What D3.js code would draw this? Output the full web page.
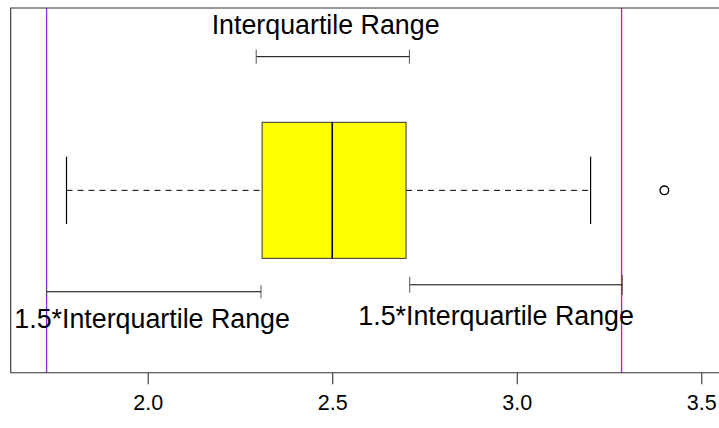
<!DOCTYPE html>
<html>
<head>
<meta charset="utf-8">
<script src="https://cdn.jsdelivr.net/npm/d3@7/dist/d3.min.js"></script>
<style>
html,body{margin:0;padding:0;background:#fff;}
svg{display:block;}
text{font-family:"Liberation Sans", Arial, Helvetica, sans-serif;fill:#000;}
</style>
</head>
<body>
<div id="chart"></div>
<script>
// ---- data ----
const boxStats = [1.78, 2.31, 2.5, 2.70, 3.2];   // lower whisker, Q1, median, Q3, upper whisker
const outliers = [3.4];
const fences = [1.726, 3.284];                    // Q1 - 1.5*IQR, Q3 + 1.5*IQR
const tickValues = [2.0, 2.5, 3.0, 3.5];
const tickLabels = ["2.0", "2.5", "3.0", "3.5"];
const bracketFrom = [2.294, 1.726, 2.710];
const bracketTo   = [2.709, 2.307, 3.286];
const bracketLevel = [1.3665, 0.722, 0.741];
const labelText = ["Interquartile Range", "1.5*Interquartile Range", "1.5*Interquartile Range"];
const labelX = [2.482, 2.012, 2.944];
const labelLevel = [1.4287, 0.6226, 0.631];

// ---- layout ----
const W = 719, H = 428;
const frameLeft = 10.7, frameTop = 8, frameBottom = 372.7, frameRight = 740;
const svg = d3.select("#chart").append("svg").attr("width", W).attr("height", H);

const x = d3.scaleLinear().domain([2.0, 3.5]).range([147.7, 701.3]);
const y = d3.scaleLinear().domain([0.5, 1.5]).range([frameBottom, frameTop]);
const boxHalf = 0.1865, stapleHalf = 0.0923, center = 1;

// fences (purple)
svg.selectAll("line.fence").data(fences).enter().append("line")
  .attr("x1", d => x(d)).attr("x2", d => x(d))
  .attr("y1", frameTop).attr("y2", frameBottom)
  .attr("stroke", "#a020f0").attr("stroke-width", 1.3);

// whiskers
const [wlo, q1, med, q3, whi] = boxStats;
svg.append("line").attr("x1", x(wlo)).attr("x2", x(q1)).attr("y1", y(center)).attr("y2", y(center))
  .attr("stroke", "#000").attr("stroke-dasharray", "6,5");
svg.append("line").attr("x1", x(q3)).attr("x2", x(whi)).attr("y1", y(center)).attr("y2", y(center))
  .attr("stroke", "#000").attr("stroke-dasharray", "6,5");
svg.selectAll("line.staple").data([wlo, whi]).enter().append("line")
  .attr("x1", d => x(d)).attr("x2", d => x(d))
  .attr("y1", y(center + stapleHalf)).attr("y2", y(center - stapleHalf))
  .attr("stroke", "#000").attr("stroke-width", 1.2);

// box
svg.append("rect").attr("x", x(q1)).attr("y", y(center + boxHalf))
  .attr("width", x(q3) - x(q1)).attr("height", y(center - boxHalf) - y(center + boxHalf))
  .attr("fill", "#ffff00").attr("stroke", "#333").attr("stroke-width", 1);
svg.append("line").attr("x1", x(med)).attr("x2", x(med))
  .attr("y1", y(center + boxHalf)).attr("y2", y(center - boxHalf))
  .attr("stroke", "#000").attr("stroke-width", 1.6);

// outliers
svg.selectAll("circle.out").data(outliers).enter().append("circle")
  .attr("cx", d => x(d)).attr("cy", y(center)).attr("r", 4.3)
  .attr("fill", "none").attr("stroke", "#000").attr("stroke-width", 1.4);

// brackets
const endHalf = [[7, 7], [4.5, 6.5], [8, 10]];
bracketFrom.forEach((f, i) => {
  const t = bracketTo[i], yy = y(bracketLevel[i]);
  const g = svg.append("g").attr("stroke", "#000").attr("stroke-width", 1);
  g.append("line").attr("x1", x(f)).attr("x2", x(t)).attr("y1", yy).attr("y2", yy);
  g.append("line").attr("x1", x(f)).attr("x2", x(f)).attr("y1", yy - endHalf[i][0]).attr("y2", yy + endHalf[i][0]).attr("stroke", "#555");
  g.append("line").attr("x1", x(t)).attr("x2", x(t)).attr("y1", yy - endHalf[i][1]).attr("y2", yy + endHalf[i][1]).attr("stroke", "#555");
});

// labels
svg.selectAll("text.lab").data(labelText).enter().append("text")
  .attr("x", (d, i) => x(labelX[i])).attr("y", (d, i) => y(labelLevel[i]))
  .attr("text-anchor", "middle").attr("font-size", 26.8).text(d => d);

// frame
svg.append("path")
  .attr("d", `M${frameRight},${frameTop}H${frameLeft}V${frameBottom}H${frameRight}`)
  .attr("fill", "none").attr("stroke", "#333").attr("stroke-width", 1.1);

// x axis
const axis = d3.axisBottom(x).tickValues(tickValues).tickSize(11.6).tickPadding(10.5)
  .tickFormat((d, i) => tickLabels[i]);
const ag = svg.append("g").attr("transform", `translate(0,${frameBottom})`).call(axis);
ag.select(".domain").remove();
ag.selectAll(".tick line").attr("stroke", "#333").attr("stroke-width", 1.1);
ag.selectAll(".tick text").attr("font-size", 21.5)
  .attr("font-family", '"Liberation Sans", Arial, Helvetica, sans-serif').attr("fill", "#000");
</script>
</body>
</html>
